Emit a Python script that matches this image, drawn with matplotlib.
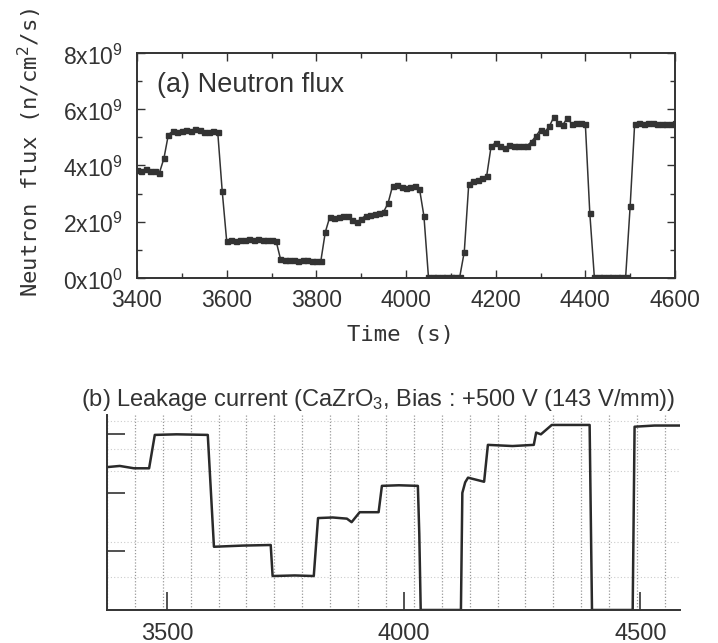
import numpy as np
import matplotlib
matplotlib.use('Agg')
import matplotlib.pyplot as plt
from matplotlib.ticker import MultipleLocator, FixedLocator, FuncFormatter, NullFormatter
from matplotlib import transforms

# (a) neutron flux, one reading every 10 s, values in units of 1e9 n/cm2/s
flux_time = np.arange(3400, 4601, 10)
flux_value = [
    3.85, 3.82, 3.86, 3.80, 3.82, 3.74,
    4.25, 5.10, 5.22, 5.20, 5.22, 5.25, 5.24, 5.28, 5.25, 5.20, 5.18, 5.22, 5.20,
    3.10,
    1.32, 1.35, 1.33, 1.36, 1.34, 1.38, 1.35, 1.40, 1.36, 1.34, 1.35, 1.33,
    0.68, 0.65, 0.63, 0.64, 0.62, 0.64, 0.63, 0.60, 0.62, 0.60,
    1.63,
    2.17, 2.15, 2.18, 2.20, 2.22, 2.05, 1.98, 2.10, 2.22, 2.25, 2.28, 2.30,
    2.35, 2.66, 3.27, 3.30, 3.22, 3.20, 3.22, 3.28, 3.18,
    2.20,
    0.05, 0.05, 0.05, 0.05, 0.05, 0.05, 0.05, 0.05,
    0.93,
    3.35, 3.45, 3.50, 3.55, 3.63,
    4.70, 4.80, 4.70, 4.62, 4.72, 4.68, 4.68, 4.68, 4.70, 4.85, 5.05,
    5.27, 5.20, 5.40, 5.73, 5.50, 5.45, 5.69, 5.47, 5.52, 5.50, 5.48,
    2.30,
    0.05, 0.05, 0.05, 0.05, 0.05, 0.05, 0.05, 0.05,
    2.56,
    5.48, 5.50, 5.47, 5.50, 5.52, 5.49, 5.46, 5.48, 5.47, 5.50,
]

# (b) leakage current trace (arbitrary units)
leak_time = [3373, 3400, 3430, 3462, 3474, 3520, 3586, 3599, 3660, 3719,
             3723, 3770, 3810, 3819, 3850, 3880, 3890, 3907, 3947, 3954,
             3990, 4030, 4033, 4036, 4121, 4124, 4130, 4136, 4170, 4178,
             4230, 4275, 4280, 4290, 4313, 4393, 4398, 4484, 4488, 4530, 4582]
leak_level = [2.44, 2.46, 2.42, 2.42, 2.99, 3.00, 2.99, 1.08, 1.10, 1.11,
              0.58, 0.59, 0.58, 1.57, 1.58, 1.56, 1.50, 1.67, 1.67, 2.12,
              2.13, 2.12, 1.30, 0.00, 0.00, 2.00, 2.18, 2.26, 2.19, 2.82,
              2.80, 2.82, 3.03, 3.00, 3.16, 3.16, 0.00, 0.00, 3.13, 3.15, 3.15]
leak_ticks = [3500, 4000, 4500]

INK = '#333333'
SANS = ['Liberation Sans', 'DejaVu Sans']
MONO = ['DejaVu Sans Mono']
plt.rcParams['font.family'] = SANS
plt.rcParams['text.color'] = INK

fig = plt.figure(figsize=(7.18, 6.43), dpi=100)

# ---- top panel
ax1 = fig.add_axes([137 / 718, 1 - 278 / 643, 538 / 718, 225 / 643])
ax1.plot(flux_time, np.array(flux_value) * 1e9, '-s', color=INK, lw=1.1,
         ms=3.6, mec=INK, mfc=INK)
ax1.set_xlim(3400, 4600)
ax1.set_ylim(0, 8e9)
ax1.xaxis.set_major_locator(MultipleLocator(200))
ax1.xaxis.set_minor_locator(MultipleLocator(100))
ax1.yaxis.set_major_locator(MultipleLocator(2e9))
ax1.yaxis.set_minor_locator(MultipleLocator(1e9))


def sci(v, pos):
    m = int(round(v / 1e9))
    return r'$\mathregular{%dx10^{%d}}$' % (m, 9 if m else 0)


ax1.yaxis.set_major_formatter(FuncFormatter(sci))
ax1.tick_params(which='both', direction='in', top=True, right=True,
                color=INK, labelcolor=INK, width=1.0)
ax1.tick_params(which='major', length=6)
ax1.tick_params(which='minor', length=3.5)
ax1.tick_params(axis='x', pad=8, labelsize=16.5)
ax1.tick_params(axis='y', pad=10, labelsize=16.5)
for s in ax1.spines.values():
    s.set_color(INK)
    s.set_linewidth(1.4)
# labels sit a little below their ticks, as in the original figure
shift = transforms.ScaledTranslation(0, -1 / 72, fig.dpi_scale_trans)
for lab in ax1.get_yticklabels():
    lab.set_transform(lab.get_transform() + shift)

ax1.set_ylabel('Neutron flux (n/cm$^2$/s)', family=MONO, fontsize=16,
               va='center', color=INK)
ax1.yaxis.set_label_coords(-0.199, 0.56)
ax1.set_xlabel('Time (s)', family=MONO, fontsize=16, va='center', color=INK)
ax1.xaxis.set_label_coords(0.49, -0.255)
ax1.text(0.212, 0.86, '(a) Neutron flux', transform=ax1.transAxes,
         fontsize=19.5, ha='center', va='center', color=INK)

# ---- bottom panel
ax2 = fig.add_axes([107 / 718, 1 - 610 / 643, 573 / 718, 195 / 643])
ax2.plot(leak_time, leak_level, color='#2a2a2a', lw=1.8)
ax2.set_xlim(3373, 4584)
ax2.set_ylim(0, 3.33)
ax2.set_xticks(leak_ticks)
ax2.set_yticks([1, 2, 3])
ax2.yaxis.set_major_formatter(NullFormatter())
ax2.xaxis.set_minor_locator(MultipleLocator(58.95, offset=3373))
ax2.yaxis.set_minor_locator(FixedLocator([0.56, 1.16, 2.38, 2.75, 3.22]))
ax2.grid(which='minor', axis='x', color='#999999', ls=(0, (1, 1.5)), lw=0.9)
ax2.grid(which='minor', axis='y', color='#cccccc', ls=(0, (1, 2)), lw=0.8)
ax2.tick_params(which='minor', length=0)
ax2.tick_params(which='major', direction='in', length=13, width=1.2,
                color=INK, labelcolor=INK, labelsize=17, pad=9)
for side in ('top', 'right'):
    ax2.spines[side].set_visible(False)
for side in ('left', 'bottom'):
    ax2.spines[side].set_color(INK)
    ax2.spines[side].set_linewidth(1.4)
ax2.text(0.474, 1.075,
         r'(b) Leakage current (CaZrO$\mathregular{_3}$, Bias : +500 V (143 V/mm))',
         transform=ax2.transAxes, fontsize=17, ha='center', va='center',
         color=INK)

fig.savefig('out.png', dpi=100)
